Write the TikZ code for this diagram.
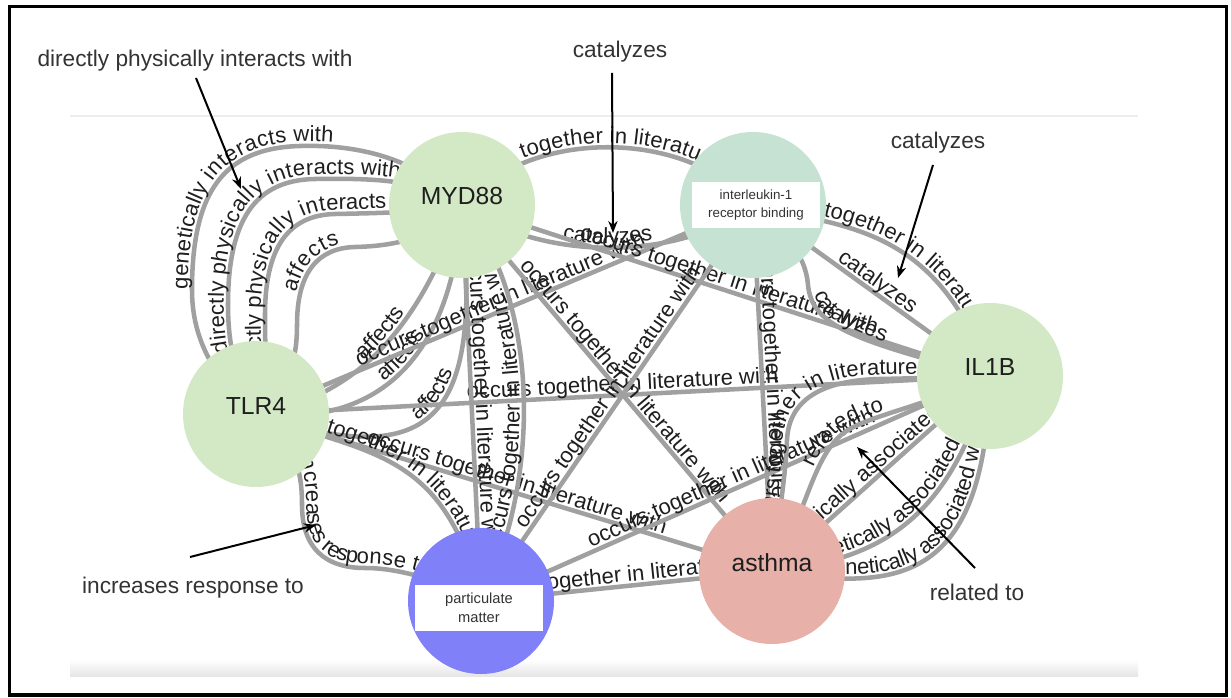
\documentclass[tikz,border=0pt]{standalone}
\usepackage{fontspec}
\setmainfont{Liberation Sans}
\usetikzlibrary{decorations.text,arrows.meta}

\definecolor{nodegreen}{HTML}{D3E8C4}
\definecolor{bindteal}{HTML}{C5E2D3}
\definecolor{asthmapink}{HTML}{E7B0A8}
\definecolor{pmblue}{HTML}{8080F8}
\definecolor{edgegray}{HTML}{A0A0A0}
\definecolor{inktext}{HTML}{1E1E1E}
\definecolor{notetext}{HTML}{333333}

\pgfdeclarelayer{back}
\pgfsetlayers{back,main}

\newcommand\edgefont{\fontsize{16.5pt}{16.5pt}\selectfont}

\tikzset{
  link/.style={draw=edgegray,line width=3.4pt},
  lbl/.style={postaction={decorate,decoration={text along path,text align=center,
      raise=3.2pt,text color=inktext,text={|\edgefont|#1}}}},
  entity/.style={circle,minimum size=109.5pt,inner sep=0pt},
  entitytext/.style={anchor=base,inner sep=0pt,text=inktext,font=\fontsize{18.5pt}{18.5pt}\selectfont},
  tag/.style={fill=white,minimum width=96pt,minimum height=34.5pt,inner sep=0pt,align=center,text=notetext},
  note/.style={text=notetext,font=\fontsize{17pt}{17pt}\selectfont,inner sep=0pt},
  pointer/.style={draw=black,line width=1.5pt,-{Stealth[length=9pt,width=7pt]}},
}

\begin{document}
\begin{tikzpicture}[x=0.75pt,y=-0.75pt]
\useasboundingbox (0,0) rectangle (1231,698);

% outer frame
\draw[line width=2.4pt] (9.5,6.5) rectangle (1226.5,695);

% entities
\node[entity,fill=nodegreen]  (myd)  at (462,205) {};
\node[entity,fill=bindteal]   (ilr)  at (753,205) {};
\node[entity,fill=nodegreen]  (il1b) at (990,376) {};
\node[entity,fill=nodegreen]  (tlr)  at (256,414) {};
\node[entity,fill=asthmapink] (ast)  at (772,571) {};
\node[entity,fill=pmblue]     (pm)   at (481,601) {};

\node[entitytext] (mydtxt)  at (myd.center)  {MYD88};
\node[entitytext] (il1btxt) at (il1b.center) {IL1B};
\node[entitytext] (tlrtxt)  at (tlr.center)  {TLR4};
\node[entitytext] (asttxt)  at (ast.center)  {asthma};

\node[tag,font=\fontsize{10pt}{13.5pt}\selectfont] (ilrtag) at (756,205) {interleukin-1\\receptor binding};
\node[tag,font=\fontsize{11pt}{14pt}\selectfont]   (pmtag)  at (479,608) {particulate\\matter};

\begin{pgfonlayer}{back}
  % canvas rules
  \draw[draw=black!7,line width=1.5pt] (70,116) -- (1138,116);
  \shade[top color=white,bottom color=black!10] (70,660) rectangle (1138,676);

  % TLR4 -- MYD88
  \draw[link,lbl={genetically interacts with}] (tlr.center)
     .. controls (215,380) and (192,340) .. (192,290)
     .. controls (192,190) and (225,148) .. (300,146)
     .. controls (370,144) and (425,165) .. (myd.center);
  \draw[link,lbl={directly physically interacts with}] (tlr.center)
     .. controls (240,385) and (228,355) .. (228,305)
     .. controls (228,220) and (255,180) .. (315,179)
     .. controls (375,178) and (425,180) .. (myd.center);
  \draw[link,lbl={directly physically interacts with}] (tlr.center)
     .. controls (268,385) and (265,355) .. (265,315)
     .. controls (265,248) and (288,215) .. (335,214)
     .. controls (385,213) and (430,212) .. (myd.center);
  \draw[link,lbl={affects}] (tlr.center)
     .. controls (292,385) and (297,355) .. (297,325)
     .. controls (297,272) and (318,248) .. (355,247)
     .. controls (400,246) and (440,235) .. (myd.center);
  \draw[link,lbl={affects}] (tlr.center) .. controls (370,395) and (425,310) .. (myd.center);
  \draw[link,lbl={affects}] (tlr.center) .. controls (400,430) and (455,330) .. (myd.center);
  \draw[link,lbl={affects}] (tlr.center) .. controls (450,480) and (480,400) .. (myd.center);

  % TLR4 -- others
  \draw[link,lbl={occurs together in literature with}] (tlr.center) -- (ilr.center);
  \draw[link,lbl={occurs together in literature with}] (tlr.center) -- (il1b.center);
  \draw[link,lbl={occurs together in literature with}] (tlr.center) -- (ast.center);
  \draw[link,lbl={increases response to}] (tlr.center)
     .. controls (295,440) and (302,470) .. (302,505)
     .. controls (302,548) and (325,568) .. (365,568)
     .. controls (405,568) and (450,585) .. (pm.center);
  \draw[link,lbl={occurs together in literature with}] (tlr.center)
     .. controls (370,455) and (445,450) .. (pm.center);

  % MYD88 -- others
  \draw[link,lbl={occurs together in literature with}] (myd.center)
     .. controls (530,128) and (685,128) .. (ilr.center);
  \draw[link,lbl={catalyzes}] (myd.center)
     .. controls (540,262) and (680,262) .. (ilr.center);
  \draw[link,lbl={occurs together in literature with}] (myd.center) -- (il1b.center);
  \draw[link,lbl={occurs together in literature with}] (myd.center) -- (ast.center);
  \draw[link,lbl={occurs together in literature with}] (myd.center) -- (pm.center);
  \draw[link,lbl={occurs together in literature with}] (pm.center)
     .. controls (542,480) and (540,300) .. (myd.center);

  % interleukin-1 receptor binding -- others
  \draw[link,lbl={occurs together in literature with}] (ilr.center)
     .. controls (840,228) and (935,222) .. (il1b.center);
  \draw[link,lbl={catalyzes}] (ilr.center) -- (il1b.center);
  \draw[link,lbl={catalyzes}] (ilr.center)
     .. controls (780,230) and (805,250) .. (808,285)
     .. controls (812,325) and (850,340) .. (il1b.center);
  \draw[link,lbl={occurs together in literature with}] (ilr.center) -- (ast.center);
  \draw[link,lbl={occurs together in literature with}] (pm.center) -- (ilr.center);

  % particulate matter -- others
  \draw[link,lbl={occurs together in literature with}] (pm.center) -- (ast.center);
  \draw[link,lbl={occurs together in literature with}] (pm.center) -- (il1b.center);

  % asthma -- IL1B
  \draw[link,lbl={occurs together in literature with}] (ast.center)
     .. controls (780,510) and (786,470) .. (787,440)
     .. controls (789,395) and (830,380) .. (880,379)
     .. controls (930,378) and (960,377) .. (il1b.center);
  \draw[link,lbl={related to}] (ast.center)
     .. controls (805,520) and (812,455) .. (845,432)
     .. controls (870,415) and (920,408) .. (il1b.center);
  \draw[link,lbl={genetically associated with}] (ast.center) -- (il1b.center);
  \draw[link,lbl={genetically associated with}] (ast.center)
     .. controls (880,560) and (950,520) .. (il1b.center);
  \draw[link,lbl={genetically associated with}] (ast.center)
     .. controls (900,592) and (985,582) .. (il1b.center);
\end{pgfonlayer}

% call-outs
\node[note] (dpinote)  at (195,61)  {directly physically interacts with};
\node[note] (catnotea) at (620,52)  {catalyzes};
\node[note] (catnoteb) at (938,143) {catalyzes};
\node[note] (irnote)   at (193,588) {increases response to};
\node[note] (relnote)  at (977,592) {related to};

\coordinate (dpitail)  at (196,78);  \coordinate (dpitip)  at (241,189);
\coordinate (catatail) at (612,73);  \coordinate (catatip) at (613,233);
\coordinate (catbtail) at (933,165); \coordinate (catbtip) at (898,278);
\coordinate (irtail)   at (190,557); \coordinate (irtip)   at (316,525);
\coordinate (reltail)  at (975,568); \coordinate (reltip)  at (857,447);

\draw[pointer] (dpitail)  -- (dpitip);
\draw[pointer] (catatail) -- (catatip);
\draw[pointer] (catbtail) -- (catbtip);
\draw[pointer] (irtail)   -- (irtip);
\draw[pointer] (reltail)  -- (reltip);
\end{tikzpicture}
\end{document}
